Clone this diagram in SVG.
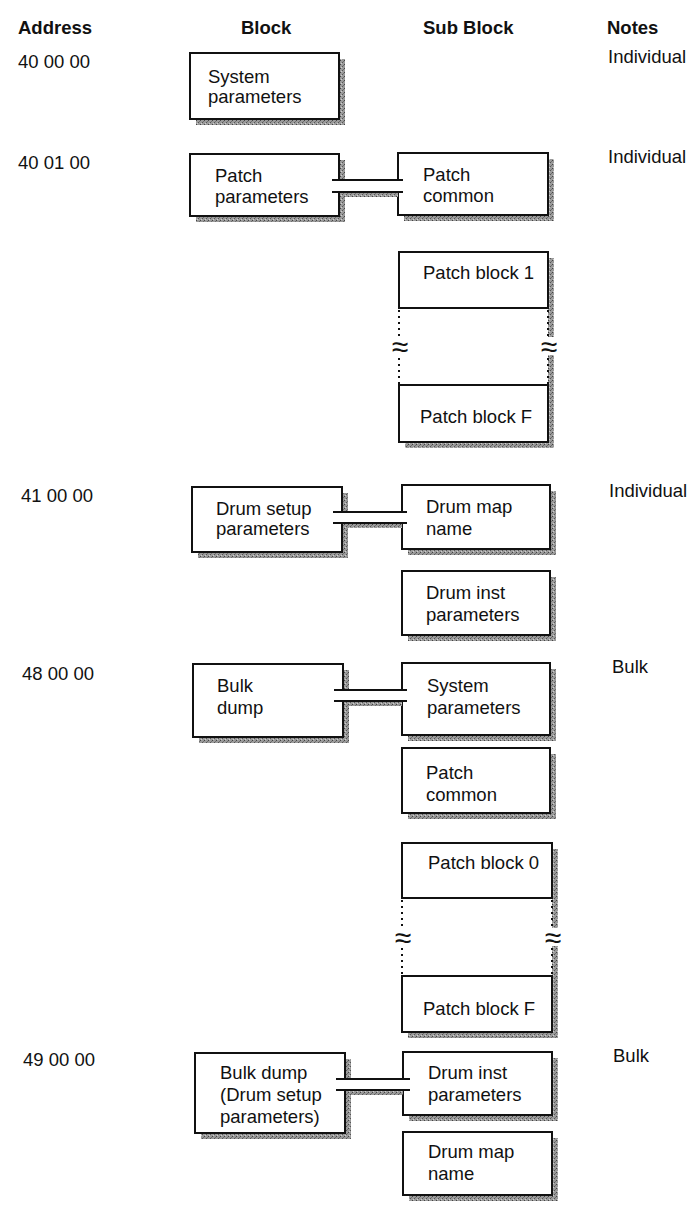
<svg xmlns="http://www.w3.org/2000/svg" width="693" height="1206" viewBox="0 0 693 1206">
<style>
text{font-family:"Liberation Sans",Arial,Helvetica,sans-serif;font-size:18.5px;fill:#111}
.h{font-weight:bold}
.box{fill:#fff;stroke:#111;stroke-width:2}
.sh{fill:url(#stip)}
.pl{stroke:#111;stroke-width:2;fill:none}
.dot{stroke:#111;stroke-width:2;stroke-dasharray:2 4;fill:none}
.wv{font-size:30px}
</style>
<defs>
<pattern id="stip" width="4" height="4" patternUnits="userSpaceOnUse">
<rect width="4" height="4" fill="#9a9a9a"/>
<rect x="0" y="0" width="1" height="1" fill="#444"/>
<rect x="2" y="2" width="1" height="1" fill="#555"/>
<rect x="3" y="1" width="1" height="1" fill="#707070"/>
<rect x="1" y="3" width="1" height="1" fill="#cfcfcf"/>
</pattern>
</defs>
<rect width="693" height="1206" fill="#fff"/>

<g id="headers">
<text class="h" x="18" y="34">Address</text>
<text class="h" x="241" y="34">Block</text>
<text class="h" x="423" y="34">Sub Block</text>
<text class="h" x="607" y="34">Notes</text>
</g>

<g id="addresses">
<text x="18" y="68">40 00 00</text>
<text x="18" y="169">40 01 00</text>
<text x="21" y="502">41 00 00</text>
<text x="22" y="680">48 00 00</text>
<text x="23" y="1066">49 00 00</text>
</g>

<g id="notes">
<text x="608" y="63">Individual</text>
<text x="608" y="163">Individual</text>
<text x="609" y="497">Individual</text>
<text x="612" y="673">Bulk</text>
<text x="613" y="1062">Bulk</text>
</g>

<g id="system-parameters">
<rect x="196" y="59" width="149" height="66" class="sh"/>
<rect x="190" y="53" width="149" height="66" class="box"/>
<text x="208" y="83">System</text>
<text x="208" y="103">parameters</text>
</g>

<g id="patch-parameters">
<rect x="196" y="160" width="149" height="62" class="sh"/>
<rect x="190" y="154" width="149" height="62" class="box"/>
<text x="215" y="182">Patch</text>
<text x="215" y="203">parameters</text>
</g>

<g id="patch-common">
<rect x="404" y="159" width="150" height="62" class="sh"/>
<rect x="398" y="153" width="150" height="62" class="box"/>
<text x="423" y="181">Patch</text>
<text x="423" y="202">common</text>
</g>

<g id="patch-blocks-1">
<rect x="405" y="258" width="149" height="190" class="sh"/>
<rect x="399" y="308" width="149" height="77" fill="#fff"/>
<rect x="399" y="252" width="149" height="56" class="box"/>
<rect x="399" y="385" width="149" height="57" class="box"/>
<line x1="399" y1="310" x2="399" y2="384" class="dot"/>
<line x1="548" y1="310" x2="548" y2="384" class="dot"/>
<rect x="390" y="337" width="18" height="18" fill="#fff"/>
<rect x="540" y="337" width="18" height="18" fill="#fff"/>
<text class="wv" x="400" y="357" text-anchor="middle">≈</text>
<text class="wv" x="549" y="357" text-anchor="middle">≈</text>
<text x="423" y="279">Patch block 1</text>
<text x="420" y="423">Patch block F</text>
</g>

<g id="drum-setup-parameters">
<rect x="198" y="493" width="150" height="65" class="sh"/>
<rect x="192" y="487" width="150" height="65" class="box"/>
<text x="216" y="515">Drum setup</text>
<text x="216" y="535">parameters</text>
</g>

<g id="drum-map-name">
<rect x="408" y="491" width="148" height="64" class="sh"/>
<rect x="402" y="485" width="148" height="64" class="box"/>
<text x="426" y="513">Drum map</text>
<text x="426" y="535">name</text>
</g>

<g id="drum-inst-parameters">
<rect x="408" y="577" width="148" height="64" class="sh"/>
<rect x="402" y="571" width="148" height="64" class="box"/>
<text x="426" y="599">Drum inst</text>
<text x="426" y="621">parameters</text>
</g>

<g id="bulk-dump">
<rect x="199" y="670" width="150" height="73" class="sh"/>
<rect x="193" y="664" width="150" height="73" class="box"/>
<text x="217" y="692">Bulk</text>
<text x="217" y="714">dump</text>
</g>

<g id="bulk-system-parameters">
<rect x="408" y="669" width="148" height="72" class="sh"/>
<rect x="402" y="663" width="148" height="72" class="box"/>
<text x="427" y="692">System</text>
<text x="427" y="714">parameters</text>
</g>

<g id="bulk-patch-common">
<rect x="408" y="754" width="148" height="65" class="sh"/>
<rect x="402" y="748" width="148" height="65" class="box"/>
<text x="426" y="779">Patch</text>
<text x="426" y="801">common</text>
</g>

<g id="patch-blocks-2">
<rect x="408" y="849" width="150" height="189" class="sh"/>
<rect x="402" y="898" width="150" height="78" fill="#fff"/>
<rect x="402" y="843" width="150" height="55" class="box"/>
<rect x="402" y="976" width="150" height="56" class="box"/>
<line x1="402" y1="900" x2="402" y2="975" class="dot"/>
<line x1="552" y1="900" x2="552" y2="975" class="dot"/>
<rect x="393" y="928" width="18" height="18" fill="#fff"/>
<rect x="544" y="928" width="18" height="18" fill="#fff"/>
<text class="wv" x="403" y="948" text-anchor="middle">≈</text>
<text class="wv" x="553" y="948" text-anchor="middle">≈</text>
<text x="428" y="869">Patch block 0</text>
<text x="423" y="1015">Patch block F</text>
</g>

<g id="bulk-dump-drum-setup">
<rect x="201" y="1059" width="150" height="80" class="sh"/>
<rect x="195" y="1053" width="150" height="80" class="box"/>
<text x="220" y="1079">Bulk dump</text>
<text x="220" y="1101">(Drum setup</text>
<text x="220" y="1123">parameters)</text>
</g>

<g id="bulk-drum-inst-parameters">
<rect x="409" y="1058" width="149" height="63" class="sh"/>
<rect x="403" y="1052" width="149" height="63" class="box"/>
<text x="428" y="1079">Drum inst</text>
<text x="428" y="1101">parameters</text>
</g>

<g id="bulk-drum-map-name">
<rect x="409" y="1138" width="149" height="63" class="sh"/>
<rect x="403" y="1132" width="149" height="63" class="box"/>
<text x="428" y="1158">Drum map</text>
<text x="428" y="1180">name</text>
</g>

<g id="connectors">
<g id="c1"><rect x="340" y="193" width="58" height="4" class="sh"/><rect x="332" y="180" width="71" height="12" fill="#fff"/><line x1="332" y1="180" x2="403" y2="180" class="pl"/><line x1="332" y1="192" x2="403" y2="192" class="pl"/></g>
<g id="c2"><rect x="343" y="524" width="59" height="4" class="sh"/><rect x="333" y="512" width="74" height="11" fill="#fff"/><line x1="333" y1="512" x2="407" y2="512" class="pl"/><line x1="333" y1="523" x2="407" y2="523" class="pl"/></g>
<g id="c3"><rect x="344" y="702" width="58" height="4" class="sh"/><rect x="334" y="690" width="73" height="11" fill="#fff"/><line x1="334" y1="690" x2="407" y2="690" class="pl"/><line x1="334" y1="701" x2="407" y2="701" class="pl"/></g>
<g id="c4"><rect x="346" y="1091" width="57" height="4" class="sh"/><rect x="336" y="1079" width="74" height="11" fill="#fff"/><line x1="336" y1="1079" x2="410" y2="1079" class="pl"/><line x1="336" y1="1090" x2="410" y2="1090" class="pl"/></g>
</g>
</svg>
